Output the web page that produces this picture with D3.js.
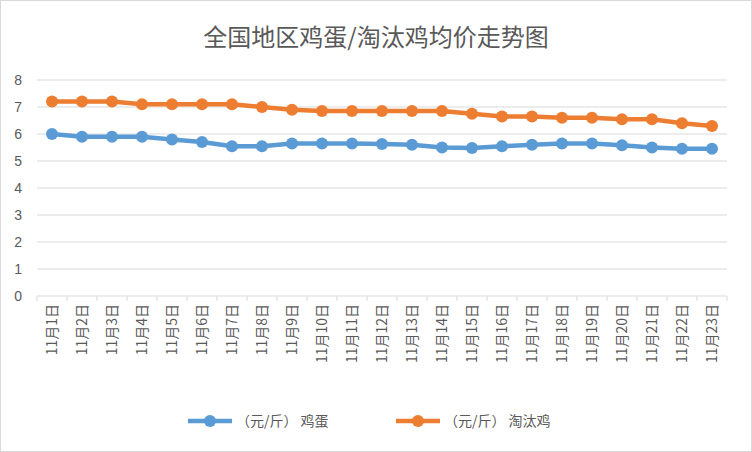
<!DOCTYPE html><html><head><meta charset="utf-8"><script src="https://cdn.jsdelivr.net/npm/d3@7"></script>
<style>body{margin:0;background:#fff}svg{display:block;font-family:"Noto Sans CJK SC","Noto Sans",sans-serif}</style></head><body>
<script>
const categories=d3.range(1,24).map(d=>"11月"+d+"日");
const eggs=[6.0,5.9,5.9,5.9,5.8,5.7,5.55,5.55,5.65,5.65,5.65,5.63,5.6,5.5,5.48,5.55,5.6,5.65,5.65,5.58,5.5,5.45,5.45];
const hens=[7.2,7.2,7.2,7.1,7.1,7.1,7.1,7.0,6.9,6.85,6.85,6.85,6.85,6.85,6.75,6.65,6.65,6.6,6.6,6.55,6.55,6.4,6.3];
const yTicks=[0,1,2,3,4,5,6,7,8];
const seriesNames=["（元/斤） 鸡蛋","（元/斤） 淘汰鸡"];
const colors=["#5b9bd5","#ed7d31"];
const W=752,H=452;
const svg=d3.select("body").append("svg").attr("width",W).attr("height",H);
svg.append("rect").attr("x",0.5).attr("y",0.5).attr("width",W-1).attr("height",H-1).attr("fill","#fff").attr("stroke","#d9d9d9");
svg.append("text").attr("x",376).attr("y",46).attr("text-anchor","middle").attr("font-size",24).attr("fill","#595959").text("全国地区鸡蛋/淘汰鸡均价走势图");
const x=d3.scaleBand().domain(categories).range([37,727]);
const y=d3.scaleLinear().domain([0,8]).range([296,80]);
const g=svg.append("g");
g.selectAll("line.grid").data(yTicks).join("line").attr("x1",37).attr("x2",727).attr("y1",d=>y(d)).attr("y2",d=>y(d)).attr("stroke","#d9d9d9").attr("stroke-width",1);
g.selectAll("text.yt").data(yTicks).join("text").attr("x",22).attr("y",d=>y(d)+5).attr("text-anchor","end").attr("font-size",14).attr("fill","#595959").attr("font-family","Liberation Sans, sans-serif").text(d=>d);
g.selectAll("line.tk").data(categories.concat(["end"])).join("line").attr("x1",(d,i)=>37+i*x.bandwidth()).attr("x2",(d,i)=>37+i*x.bandwidth()).attr("y1",296).attr("y2",301).attr("stroke","#d9d9d9");
g.selectAll("text.xt").data(categories).join("text")
 .attr("transform",d=>`translate(${x(d)+x.bandwidth()/2+5},304) rotate(-90)`)
 .attr("text-anchor","end").attr("font-size",14).attr("fill","#595959").text(d=>d);
[eggs,hens].forEach((s,k)=>{
 const line=d3.line().x((d,i)=>x(categories[i])+x.bandwidth()/2).y(d=>y(d));
 g.append("path").datum(s).attr("d",line).attr("fill","none").attr("stroke",colors[k]).attr("stroke-width",4.5);
 g.selectAll("circle.s"+k).data(s).join("circle").attr("cx",(d,i)=>x(categories[i])+x.bandwidth()/2).attr("cy",d=>y(d)).attr("r",6).attr("fill",colors[k]);
});
const lg=svg.append("g");
[[188,seriesNames[0]],[396,seriesNames[1]]].forEach(([lx,t],k)=>{
 lg.append("line").attr("x1",lx).attr("x2",lx+44).attr("y1",421).attr("y2",421).attr("stroke",colors[k]).attr("stroke-width",4.5);
 lg.append("circle").attr("cx",lx+22).attr("cy",421).attr("r",6).attr("fill",colors[k]);
 lg.append("text").attr("x",lx+48).attr("y",426).attr("font-size",14).attr("fill","#595959").text(t);
});
</script></body></html>
